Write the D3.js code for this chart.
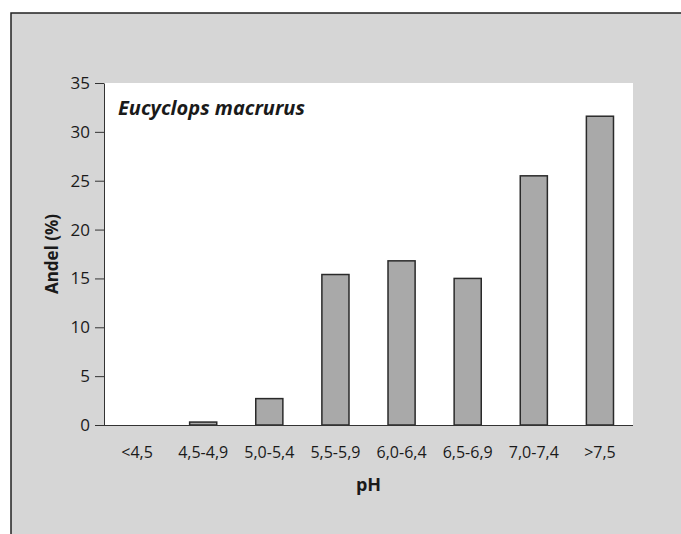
<!DOCTYPE html>
<html>
<head>
<meta charset="utf-8">
<script src="https://cdn.jsdelivr.net/npm/d3@7"></script>
<style>
  body { margin: 0; background: #fff; }
  text { font-family: "Open Sans", "DejaVu Sans", sans-serif; fill: #1a1a1a; }
</style>
</head>
<body>
<div id="chart"></div>
<script>
const categories = ["<4,5", "4,5-4,9", "5,0-5,4", "5,5-5,9", "6,0-6,4", "6,5-6,9", "7,0-7,4", ">7,5"]
const values = [0, 0.3, 2.7, 15.4, 16.8, 15.0, 25.5, 31.6]
const yTicks = [0, 5, 10, 15, 20, 25, 30, 35]
const title = "Eucyclops macrurus"
const xTitle = "pH"
const yTitle = "Andel (%)"

const dimensions = {
    width: 681,
    height: 534,
    margin: { top: 83, right: 48, bottom: 109, left: 104 },
}
dimensions.boundedWidth = dimensions.width - dimensions.margin.left - dimensions.margin.right
dimensions.boundedHeight = dimensions.height - dimensions.margin.top - dimensions.margin.bottom

const svg = d3.select("#chart").append("svg")
    .attr("width", dimensions.width)
    .attr("height", dimensions.height)

// grey background with frame on left and top
svg.append("rect")
    .attr("x", 11).attr("y", 13)
    .attr("width", dimensions.width).attr("height", dimensions.height)
    .attr("fill", "#d6d6d6")
svg.append("path")
    .attr("d", `M11,${dimensions.height} V13 H${dimensions.width}`)
    .attr("fill", "none").attr("stroke", "#222").attr("stroke-width", 1.5)

const bounds = svg.append("g")
    .attr("transform", `translate(${dimensions.margin.left},${dimensions.margin.top})`)

bounds.append("rect")
    .attr("width", dimensions.boundedWidth)
    .attr("height", dimensions.boundedHeight)
    .attr("fill", "#fff")

const xScale = d3.scaleBand()
    .domain(categories)
    .range([0, dimensions.boundedWidth])
    .paddingInner(0.59)
    .paddingOuter(0.295)

const yScale = d3.scaleLinear()
    .domain([0, 35])
    .range([dimensions.boundedHeight, 0])

bounds.selectAll(".bar")
    .data(values)
    .join("rect")
    .attr("class", "bar")
    .attr("x", (d, i) => xScale(categories[i]))
    .attr("y", d => yScale(d))
    .attr("width", xScale.bandwidth())
    .attr("height", d => yScale(0) - yScale(d))
    .attr("fill", "#a9a9a9")
    .attr("stroke", "#2a2a2a")
    .attr("stroke-width", 1.5)

// axes
const yAxis = bounds.append("g")
    .call(d3.axisLeft(yScale).tickValues(yTicks).tickSize(9).tickSizeOuter(0).tickPadding(5))
yAxis.select(".domain").attr("stroke", "#333")
yAxis.selectAll(".tick line").attr("stroke", "#333")
yAxis.selectAll("text").style("font-size", "17px").attr("fill", "#1a1a1a")

const xAxis = bounds.append("g")
    .attr("transform", `translate(0,${dimensions.boundedHeight})`)
    .call(d3.axisBottom(xScale).tickSize(0).tickPadding(22))
xAxis.select(".domain").attr("stroke", "#333").attr("d", `M-9,0.5H${dimensions.boundedWidth}`)
xAxis.selectAll("text").style("font-size", "16px").attr("fill", "#1a1a1a")

// labels
bounds.append("text")
    .attr("x", 14).attr("y", 32)
    .style("font-size", "20px").style("font-weight", "bold").style("font-style", "italic")
    .text(title)

svg.append("text")
    .attr("x", dimensions.margin.left + dimensions.boundedWidth / 2)
    .attr("y", 491)
    .attr("text-anchor", "middle")
    .style("font-size", "18px").style("font-weight", "bold")
    .text(xTitle)

svg.append("text")
    .attr("transform", `translate(58,${dimensions.margin.top + dimensions.boundedHeight / 2}) rotate(-90)`)
    .attr("text-anchor", "middle")
    .style("font-size", "17px").style("font-weight", "bold")
    .text(yTitle)
</script>
</body>
</html>
